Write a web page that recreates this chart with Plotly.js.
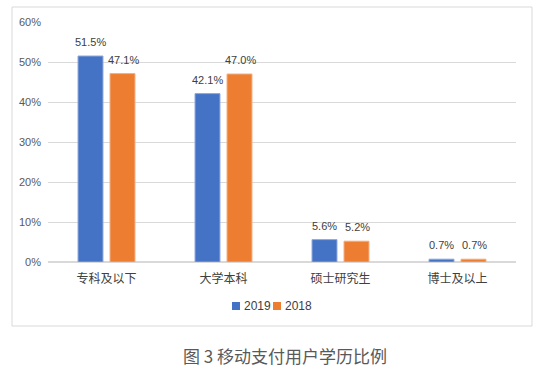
<!DOCTYPE html>
<html>
<head>
<meta charset="utf-8">
<script src="https://cdn.plot.ly/plotly-3.0.1.min.js"></script>
<style>html,body{margin:0;padding:0;background:#fff;}#chart{width:550px;height:376px;}</style>
</head>
<body>
<div id="chart"></div>
<script>
var categories = ["专科及以下", "大学本科", "硕士研究生", "博士及以上"];
var values2019 = [51.5, 42.1, 5.6, 0.7];
var values2018 = [47.1, 47.0, 5.2, 0.7];
var seriesNames = ["2019", "2018"];
var tickValues = [0, 10, 20, 30, 40, 50, 60];
var tickLabels = ["0%", "10%", "20%", "30%", "40%", "50%", "60%"];
var chartTitle = "图 3 移动支付用户学历比例";

var colors = ["#4472C4", "#ED7D31"];
var edge = ["#8FA9DC", "#F3AE82"];

// plot area in pixels: x 48..516, y 22..262
function px(x) { return (x - 48) / 468; }
function py(y) { return (262 - y) / 240; }

var traces = [values2019, values2018].map(function (vals, i) {
  return {
    type: "bar",
    name: seriesNames[i],
    x: categories,
    y: vals,
    marker: { color: colors[i], line: { color: edge[i], width: 1 } },
    hoverinfo: "none",
    showlegend: false
  };
});

var annotations = [];
[values2019, values2018].forEach(function (vals, i) {
  vals.forEach(function (v, j) {
    annotations.push({
      x: categories[j], y: v, xref: "x", yref: "y",
      text: v.toFixed(1) + "%", showarrow: false,
      xanchor: "center", yanchor: "bottom",
      xshift: i === 0 ? -16 : 17, yshift: 6,
      font: { family: "Liberation Sans, Arial, sans-serif", size: 11, color: "#404040" }
    });
  });
});
annotations.push({
  x: px(285), y: py(355), xref: "paper", yref: "paper",
  text: chartTitle, showarrow: false, xanchor: "center", yanchor: "middle",
  font: { family: "Noto Sans CJK SC, sans-serif", size: 17, color: "#595959" }
});

var shapes = [{
  type: "rect", xref: "paper", yref: "paper",
  x0: px(12), x1: px(532), y0: py(326), y1: py(7),
  line: { color: "#d9d9d9", width: 1 }, fillcolor: "rgba(0,0,0,0)", layer: "below"
}];

// custom legend
var legendX = [232, 273];
seriesNames.forEach(function (name, i) {
  shapes.push({
    type: "rect", xref: "paper", yref: "paper",
    x0: px(legendX[i]), x1: px(legendX[i] + 8), y0: py(310), y1: py(302),
    line: { width: 0 }, fillcolor: colors[i]
  });
  annotations.push({
    x: px(legendX[i] + 10), y: py(306), xref: "paper", yref: "paper",
    text: name, showarrow: false, xanchor: "left", yanchor: "middle",
    font: { family: "Liberation Sans, Arial, sans-serif", size: 12, color: "#404040" }
  });
});

var layout = {
  width: 550, height: 376,
  margin: { l: 48, r: 34, t: 22, b: 114 },
  paper_bgcolor: "#ffffff", plot_bgcolor: "#ffffff",
  barmode: "group", bargap: 0.453, bargroupgap: 0.22,
  showlegend: false,
  xaxis: {
    showgrid: false, showline: false, zeroline: false, ticks: "",
    ticklabelstandoff: 8,
    tickfont: { family: "Noto Sans CJK SC, sans-serif", size: 12, color: "#404040" },
    fixedrange: true
  },
  yaxis: {
    range: [0, 60], tickvals: tickValues, ticktext: tickLabels,
    showgrid: true, gridcolor: "#d9d9d9", gridwidth: 1,
    zeroline: true, zerolinecolor: "#d9d9d9", zerolinewidth: 1.5,
    showline: false, ticks: "", ticklabelstandoff: 6,
    tickfont: { family: "Liberation Sans, Arial, sans-serif", size: 11, color: "#595959" },
    fixedrange: true
  },
  shapes: shapes,
  annotations: annotations
};

Plotly.newPlot("chart", traces, layout, { staticPlot: true, displayModeBar: false });
</script>
</body>
</html>
